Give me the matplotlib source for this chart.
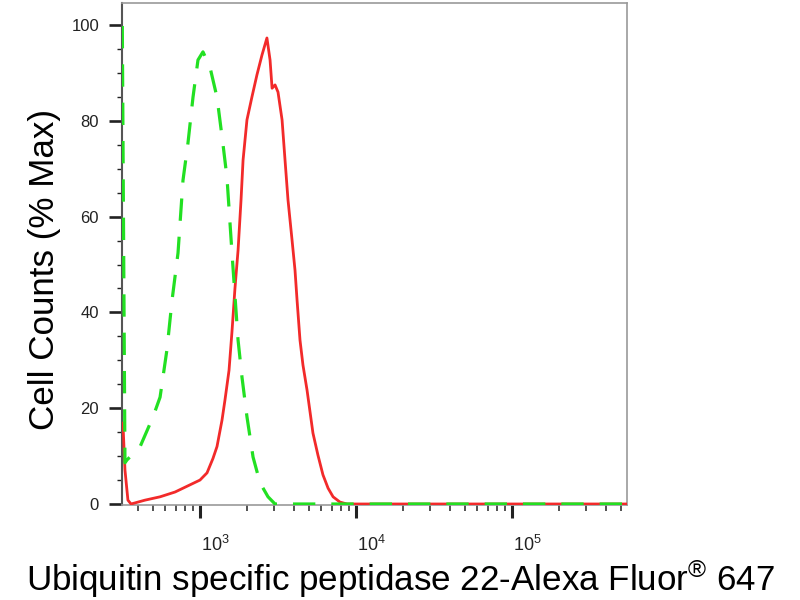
import numpy as np
import matplotlib
matplotlib.use("Agg")
import matplotlib.pyplot as plt
import matplotlib.transforms as mtransforms
from matplotlib.ticker import FixedLocator, LogLocator, NullFormatter

plt.rcParams['font.family'] = ['Liberation Sans', 'DejaVu Sans']
plt.rcParams['mathtext.fontset'] = 'custom'
plt.rcParams['mathtext.rm'] = 'Liberation Sans'
plt.rcParams['mathtext.it'] = 'Liberation Sans:italic'
plt.rcParams['mathtext.bf'] = 'Liberation Sans:bold'

# Sample (red, solid): log10 intensity and % max
red_log = [2.506, 2.519, 2.538, 2.558, 2.647, 2.744, 2.840, 2.936, 3.000, 3.045,
           3.083, 3.109, 3.141, 3.160, 3.186, 3.205, 3.224, 3.244, 3.263, 3.276,
           3.301, 3.333, 3.365, 3.397, 3.429, 3.449, 3.462, 3.481, 3.500, 3.526,
           3.545, 3.564, 3.590, 3.609, 3.622, 3.641, 3.660, 3.686, 3.724, 3.756,
           3.788, 3.821, 3.853, 3.897, 3.942, 4.500, 5.740]
red_val = [16.9, 7.1, 0.8, 0.0, 0.8, 1.5, 2.5, 4.0, 5.0, 6.5,
           9.5, 12.0, 17.5, 21.7, 27.9, 36.0, 45.0, 53.0, 63.5, 71.8,
           80.2, 85.0, 89.6, 93.7, 97.3, 92.7, 86.8, 87.5, 86.0, 80.2,
           71.8, 63.5, 55.1, 48.8, 42.6, 34.2, 29.0, 23.8, 14.8, 10.2,
           6.1, 3.3, 1.5, 0.4, 0.0, 0.0, 0.0]

# Isotype control (green, dashed)
green_log = [2.502, 2.519, 2.532, 2.615, 2.699, 2.744, 2.788, 2.821, 2.859, 2.891,
             2.923, 2.955, 2.987, 3.019, 3.064, 3.109, 3.147, 3.173, 3.205, 3.244,
             3.269, 3.301, 3.340, 3.385, 3.436, 3.481, 5.740]
green_val = [99.8, 8.6, 9.2, 11.9, 18.2, 22.3, 32.2, 42.6, 52.4, 67.6,
             75.4, 84.9, 92.7, 94.4, 91.2, 84.9, 75.2, 68.1, 52.4, 34.2,
             26.5, 18.2, 9.8, 4.4, 1.5, 0.0, 0.0]

y_ticks = [0, 20, 40, 60, 80, 100]
x_major_exp = [3, 4, 5]

fig = plt.figure(figsize=(8, 6), dpi=100)
ax = fig.add_axes([122/800, 1 - 505/600, 505/800, 502/600])

ax.plot(10**np.array(red_log), red_val, color='#f22a2a', lw=2.0, zorder=3,
        solid_joinstyle='round')
ax.plot(10**np.array(green_log), green_val, color='#22e022', lw=2.3,
        dashes=(7, 5), zorder=4)

ax.set_xscale('log')
ax.set_xlim(10**2.5, 10**5.737)
ax.set_ylim(-0.21, 104.6)

ax.xaxis.set_major_locator(FixedLocator([10.0**e for e in x_major_exp]))
ax.xaxis.set_minor_locator(LogLocator(base=10, subs=np.arange(2, 10)))
ax.xaxis.set_minor_formatter(NullFormatter())
ax.set_xticklabels([r'$10^{%d}$' % e for e in x_major_exp])
ax.set_yticks(y_ticks)
ax.set_yticks(np.arange(0, 101, 5), minor=True)
ax.set_yticklabels([str(v) for v in y_ticks])

ax.tick_params(axis='y', which='major', direction='out', length=9.5, width=1.9,
               color='#222222', labelsize=12, labelcolor='#222222', pad=7)
ax.tick_params(axis='y', which='minor', direction='out', length=3.6, width=1.0,
               color='#222222')
ax.tick_params(axis='x', which='major', direction='out', length=9.5, width=2.2,
               color='#222222', labelsize=13, labelcolor='#222222', pad=12)
ax.tick_params(axis='x', which='minor', direction='out', length=4.5, width=1.1,
               color='#222222')

offset = mtransforms.ScaledTranslation(1/100, 0, fig.dpi_scale_trans)
for lab in ax.get_xticklabels():
    lab.set_horizontalalignment('left')
    lab.set_transform(lab.get_transform() + offset)

for s in ['top', 'right']:
    ax.spines[s].set_color('#9a9a9a')
    ax.spines[s].set_linewidth(1.2)
ax.spines['left'].set_color('#555555')
ax.spines['left'].set_linewidth(1.5)
ax.spines['bottom'].set_color('#9a9a9a')
ax.spines['bottom'].set_linewidth(1.2)

fig.text(401/800, 1 - 579/600,
         r'Ubiquitin specific peptidase 22-Alexa Fluor$^{\mathrm{®}}$ 647',
         ha='center', va='center', fontsize=25.2, color='black')
fig.text(45/800, 1 - 270/600, 'Cell Counts (% Max)', rotation=90,
         ha='center', va='center', fontsize=25.2, color='black')

fig.savefig('out.png', dpi=100)
